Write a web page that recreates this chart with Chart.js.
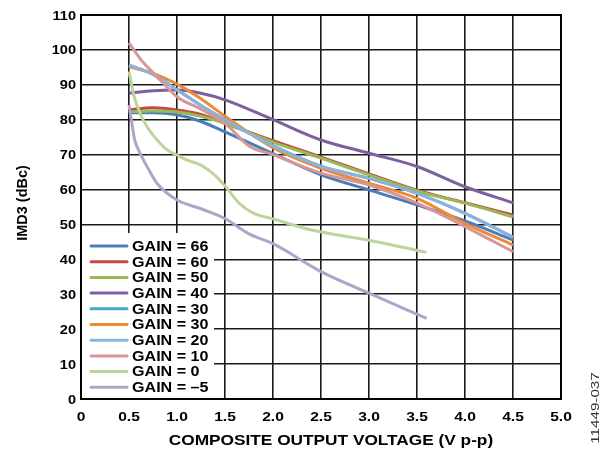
<!DOCTYPE html>
<html>
<head>
<meta charset="utf-8">
<script src="https://cdn.jsdelivr.net/npm/chart.js@4/dist/chart.umd.min.js"></script>
<style>
  html, body { margin: 0; padding: 0; background: #fff; }
  canvas { display: block; }
</style>
</head>
<body>
<canvas id="chart" width="603" height="452"></canvas>
<script>
// values
const gainLabels = ['GAIN = 66', 'GAIN = 60', 'GAIN = 50', 'GAIN = 40', 'GAIN = 30', 'GAIN = 30', 'GAIN = 20', 'GAIN = 10', 'GAIN = 0', 'GAIN = \u20135'];
const gainColors = ['#4a7ebb', '#be4b48', '#98b954', '#7d60a0', '#46aac5', '#ec8a37', '#8eb2de', '#d99694', '#bdd59a', '#b2a3c8'];

const xMain = [0.5, 0.75, 1.0, 1.25, 1.5, 2.0, 2.5, 3.0, 3.5, 4.0, 4.5];
const gain66 = [82.0, 82.0, 81.4, 79.5, 76.5, 70.3, 64.2, 59.9, 55.6, 51.0, 45.5];
const gain60 = [82.8, 83.4, 82.8, 81.5, 79.0, 74.0, 69.3, 64.5, 59.8, 56.2, 52.7];
const gain50 = [82.3, 82.5, 82.2, 81.0, 79.0, 73.6, 69.0, 64.2, 59.6, 56.1, 52.2];
const gain40 = [87.6, 88.3, 88.5, 87.6, 85.7, 80.0, 74.2, 70.4, 66.6, 60.8, 56.2];
const gain30a = [95.6, 93.0, 88.6, 84.1, 80.0, 72.6, 66.7, 63.2, 58.9, 53.2, 46.4];
const gain30b = [95.2, 93.3, 90.2, 86.0, 81.0, 72.0, 66.1, 61.8, 57.5, 50.3, 44.1];
const gain20 = [95.7, 93.0, 88.5, 84.0, 80.0, 72.5, 66.6, 63.2, 58.9, 53.2, 46.3];

const xGain10 = [0.5, 0.63, 0.75, 0.86, 1.0, 1.25, 1.5, 1.75, 2.0, 2.5, 3.0, 3.5, 4.0, 4.5];
const gain10 = [102.0, 97.0, 93.5, 90.4, 86.6, 83.0, 79.0, 72.5, 70.0, 64.7, 61.3, 56.1, 49.4, 42.2];

const xGain0 = [0.5, 0.55, 0.62, 0.7, 0.8, 0.9, 1.0, 1.1, 1.25, 1.4, 1.5, 1.65, 1.8, 2.0, 2.4, 3.0, 3.6];
const gain0 = [93.8, 87.0, 81.5, 77.5, 74.0, 71.3, 69.9, 68.5, 67.0, 64.0, 61.0, 56.0, 53.2, 51.6, 48.4, 45.5, 42.0];

const xGainM5 = [0.5, 0.53, 0.56, 0.6, 0.7, 0.8, 1.0, 1.25, 1.5, 1.75, 2.0, 2.5, 3.0, 3.6];
const gainM5 = [84.2, 79.0, 74.2, 71.3, 66.0, 61.5, 57.0, 54.5, 51.7, 47.3, 44.5, 36.5, 30.3, 23.1];

const seriesX = [xMain, xMain, xMain, xMain, xMain, xMain, xMain, xGain10, xGain0, xGainM5];
const seriesY = [gain66, gain60, gain50, gain40, gain30a, gain30b, gain20, gain10, gain0, gainM5];

const xTitle = 'COMPOSITE OUTPUT VOLTAGE (V p-p)';
const yTitle = 'IMD3 (dBc)';
const figNumber = '11449-037';

const FONT = 'Arial, "Liberation Sans", sans-serif';

const datasets = seriesY.map((ys, i) => ({
	label: gainLabels[i],
	data: ys.map((y, j) => ({ x: seriesX[i][j], y })),
	borderColor: gainColors[i],
	backgroundColor: gainColors[i],
	borderWidth: 3,
	pointRadius: 0,
	cubicInterpolationMode: 'monotone',
	order: seriesY.length - 1 - i   // later series on top
}));

// the figure's lettering is a bit wider than plain Arial, so stretch it
function wideText(ctx, text, x, y, font, sx, align) {
	ctx.save();
	ctx.font = font;
	ctx.textAlign = align;
	ctx.textBaseline = 'middle';
	ctx.translate(x, y);
	ctx.scale(sx, 1);
	ctx.fillText(text, 0, 0);
	ctx.restore();
}

const extras = {
	id: 'extras',
	afterDatasetsDraw(chart) {
		const ctx = chart.ctx;
		const a = chart.chartArea;
		ctx.save();
		// legend sits inside the plot, bottom left
		ctx.fillStyle = '#fff';
		ctx.fillRect(a.left, 233, 214 - a.left, a.bottom - 233);
		chart.data.datasets.forEach((ds, i) => {
			const y = 246 + i * 15.7;
			ctx.strokeStyle = ds.borderColor;
			ctx.lineWidth = 3;
			ctx.lineCap = 'round';
			ctx.beginPath();
			ctx.moveTo(91, y);
			ctx.lineTo(127, y);
			ctx.stroke();
			ctx.fillStyle = '#000';
			wideText(ctx, ds.label, 132, y + 1, 'bold 14px ' + FONT, 1.15, 'left');
		});
		ctx.strokeStyle = '#000';
		ctx.lineWidth = 2;
		ctx.lineCap = 'butt';
		ctx.strokeRect(a.left, a.top, a.right - a.left, a.bottom - a.top);

		// tick labels and titles
		ctx.fillStyle = '#000';
		const xs = chart.scales.x, ys = chart.scales.y;
		ys.ticks.forEach(t => {
			wideText(ctx, String(t.value), 76, ys.getPixelForValue(t.value) + 1, 'bold 13px ' + FONT, 1.12, 'right');
		});
		xs.ticks.forEach(t => {
			const lbl = t.value === 0 ? '0' : t.value.toFixed(1);
			wideText(ctx, lbl, xs.getPixelForValue(t.value), 417, 'bold 13px ' + FONT, 1.2, 'center');
		});
		wideText(ctx, xTitle, 331, 441, 'bold 14.5px ' + FONT, 1.19, 'center');

		ctx.save();
		ctx.translate(23, 203);
		ctx.rotate(-Math.PI / 2);
		wideText(ctx, yTitle, 0, 0, 'bold 14.5px ' + FONT, 1.0, 'center');
		ctx.restore();

		ctx.save();
		ctx.translate(596, 408);
		ctx.rotate(-Math.PI / 2);
		ctx.fillStyle = '#333';
		wideText(ctx, figNumber, 0, 0, '11px ' + FONT, 1.38, 'center');
		ctx.restore();
		ctx.restore();
	}
};

new Chart(document.getElementById('chart'), {
	type: 'line',
	data: { datasets },
	plugins: [extras],
	options: {
		responsive: false,
		animation: false,
		devicePixelRatio: 1,
		layout: { padding: { top: 15, right: 42, left: 0, bottom: 0 } },
		plugins: { legend: { display: false }, tooltip: { enabled: false } },
		scales: {
			x: {
				type: 'linear',
				min: 0,
				max: 5,
				afterFit: s => { s.height = 53; },
				ticks: { stepSize: 0.5, display: false },
				grid: { color: '#1a1a1a', lineWidth: 1.6, drawTicks: false },
				border: { display: false }
			},
			y: {
				min: 0,
				max: 110,
				afterFit: s => { s.width = 81; },
				ticks: { stepSize: 10, display: false },
				grid: { color: '#1a1a1a', lineWidth: 1.6, drawTicks: false },
				border: { display: false }
			}
		}
	}
});
</script>
</body>
</html>
